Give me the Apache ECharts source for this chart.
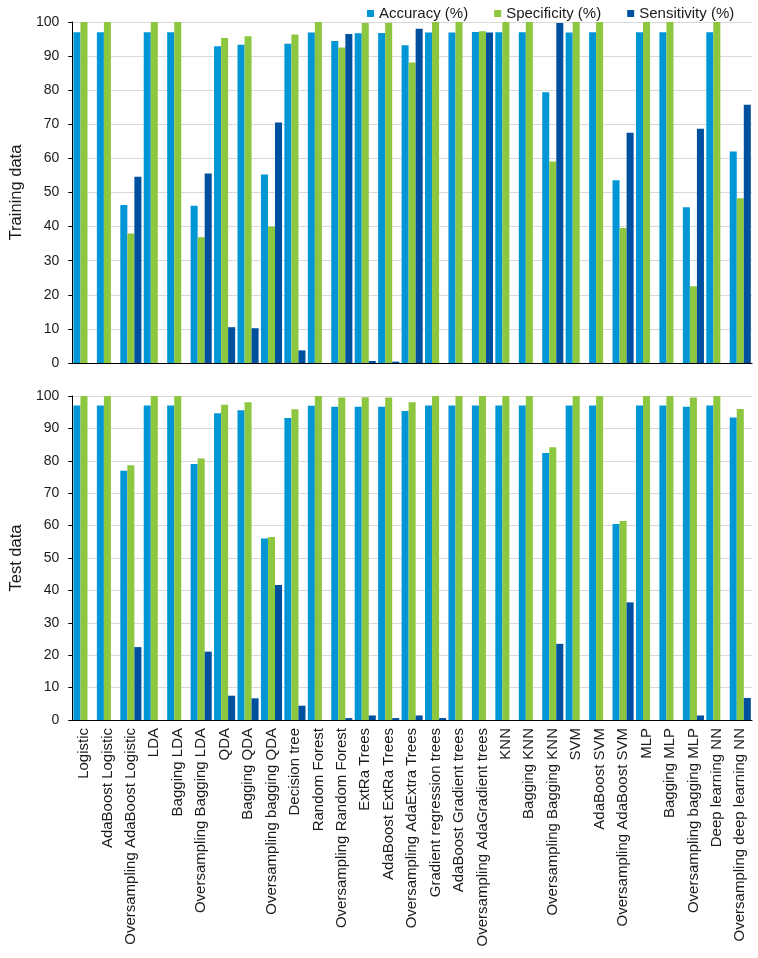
<!DOCTYPE html>
<html>
<head>
<meta charset="utf-8">
<script src="https://cdn.jsdelivr.net/npm/echarts@6/dist/echarts.min.js"></script>
<style>html,body{margin:0;padding:0;background:#fff}#c{width:758px;height:958px}</style>
</head>
<body>
<div id="c"></div>
<script>
const categories = ["Logistic","AdaBoost Logistic","Oversampling AdaBoost Logistic","LDA","Bagging LDA","Oversampling Bagging LDA","QDA","Bagging QDA","Oversampling bagging QDA","Decision tree","Random Forest","Oversampling Random Forest","ExtRa Trees","AdaBoost ExtRa Trees","Oversampling AdaExtra Trees","Gradient regression trees","AdaBoost Gradient trees","Oversampling AdaGradient trees","KNN","Bagging KNN","Oversampling Bagging KNN","SVM","AdaBoost SVM","Oversampling AdaBoost SVM","MLP","Bagging MLP","Oversampling bagging MLP","Deep learning NN","Oversampling deep learning NN"];
const seriesNames = ["Accuracy (%)","Specificity (%)","Sensitivity (%)"];
const trainAccuracy = [97.0,97.0,46.3,97.0,97.0,46.1,92.9,93.3,55.3,93.6,96.9,94.4,96.7,96.8,93.2,96.9,96.9,97.1,97.0,97.0,79.4,96.9,97.0,53.6,97.0,97.0,45.7,97.0,62.0];
const trainSpecificity = [100,100,38.0,100,100,36.9,95.3,95.8,40.0,96.3,100,92.5,99.7,99.7,88.1,100,100,97.3,100,100,59.1,100,100,39.6,100,100,22.5,100,48.3];
const trainSensitivity = [0,0,54.6,0,0,55.6,10.5,10.2,70.5,3.7,0,96.5,0.6,0.4,98.0,0,0,96.9,0,0,99.7,0,0,67.5,0,0,68.7,0,75.7];
const testAccuracy = [97.1,97.1,76.9,97.1,97.1,79.0,94.7,95.6,56.0,93.2,97.0,96.7,96.7,96.7,95.4,97.1,97.1,97.1,97.1,97.1,82.4,97.1,97.1,60.5,97.1,97.1,96.7,97.1,93.4];
const testSpecificity = [100,100,78.6,100,100,80.7,97.3,98.1,56.5,95.9,100,99.5,99.6,99.5,98.1,100,100,100,100,100,84.2,100,100,61.4,100,100,99.5,100,96.0];
const testSensitivity = [0,0,22.5,0,0,21.1,7.5,6.7,41.7,4.4,0,0.6,1.4,0.6,1.4,0.6,0,0,0,0,23.5,0,0,36.3,0,0,1.4,0,6.8];
const panelNames = ["Training data","Test data"];
const yTicks = [0,10,20,30,40,50,60,70,80,90,100];

const colors = ["#0096D6","#8DC63F","#0050A0"];
const font = "Liberation Sans, Arial, sans-serif";
const chart = echarts.init(document.getElementById('c'), null, {renderer:'canvas'});

function yAxis(gi, name){
  return {
    type:'value', gridIndex:gi, min:yTicks[0], max:yTicks[yTicks.length-1], interval:yTicks[1]-yTicks[0],
    name:name, nameLocation:'middle', nameGap:37, nameRotate:90,
    nameTextStyle:{fontFamily:font, fontSize:16.5, color:'#1a1a1a'},
    axisLine:{show:true, lineStyle:{color:'#000', width:1}},
    axisTick:{show:true, length:4, inside:false, lineStyle:{color:'#000', width:1}},
    axisLabel:{fontFamily:font, fontSize:14, color:'#1a1a1a', margin:13},
    splitLine:{lineStyle:{color:'#d9d9d9', width:1}}
  };
}
function xAxis(gi, showLabels){
  return {
    type:'category', gridIndex:gi, data:categories,
    axisLine:{lineStyle:{color:'#000', width:1.2}}, axisTick:{show:false},
    axisLabel:{show:showLabels, rotate:90, interval:0, fontFamily:font, fontSize:15, color:'#1a1a1a', margin:8}
  };
}
function bars(name, data, idx, ci){
  return {name:name, type:'bar', xAxisIndex:idx, yAxisIndex:idx, data:data,
    itemStyle:{color:colors[ci]}, barGap:'0%', barCategoryGap:'10%', animation:false};
}
chart.setOption({
  animation:false,
  color:colors,
  legend:{data:seriesNames, left:362, top:1, itemWidth:7, itemHeight:7, itemGap:26, icon:'rect',
    textStyle:{fontFamily:font, fontSize:15, color:'#1a1a1a'}},
  grid:[{left:65, right:6, top:22, height:341},{left:65, right:6, top:396, height:324}],
  xAxis:[xAxis(0,false), xAxis(1,true)],
  yAxis:[yAxis(0,panelNames[0]), yAxis(1,panelNames[1])],
  series:[
    bars(seriesNames[0], trainAccuracy, 0, 0),
    bars(seriesNames[1], trainSpecificity, 0, 1),
    bars(seriesNames[2], trainSensitivity, 0, 2),
    bars(seriesNames[0], testAccuracy, 1, 0),
    bars(seriesNames[1], testSpecificity, 1, 1),
    bars(seriesNames[2], testSensitivity, 1, 2)
  ]
});
</script>
</body>
</html>
